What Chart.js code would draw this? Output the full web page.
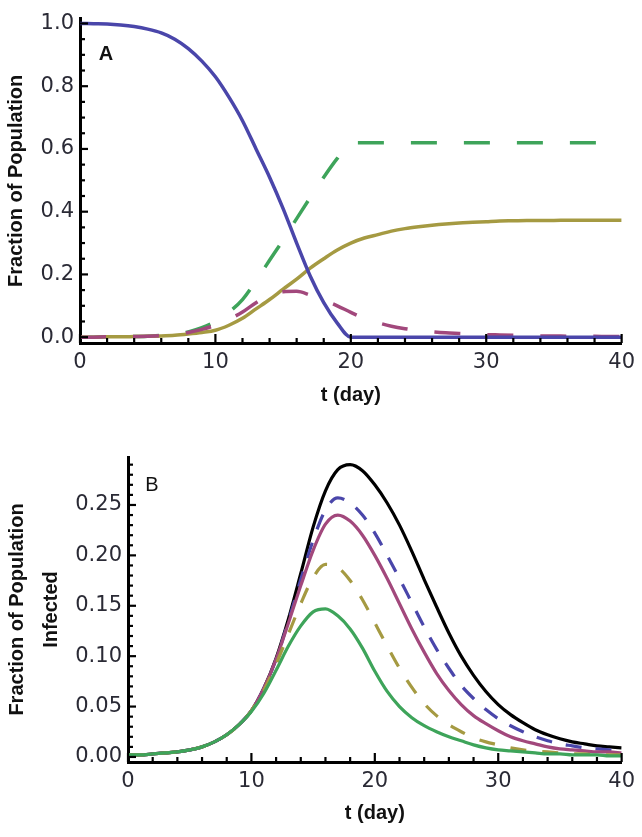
<!DOCTYPE html>
<html>
<head>
<meta charset="utf-8">
<script src="https://cdn.jsdelivr.net/npm/chart.js@4/dist/chart.umd.min.js"></script>
<style>
  html,body{margin:0;padding:0;background:#fff;}
  body{width:642px;height:837px;position:relative;overflow:hidden;}
  .box{position:absolute;left:0;width:642px;}
</style>
</head>
<body>
<div class="box" style="top:0;height:420px;"><canvas id="chartA" width="642" height="420"></canvas></div>
<div class="box" style="top:420px;height:417px;"><canvas id="chartB" width="642" height="417"></canvas></div>
<script>
// ---------- data ----------
const days = [0,1,2,3,4,5,6,7,8,9,10,11,12,13,14,15,16,17,18,19,20,21,22,23,24,25,26,27,28,29,30,31,32,33,34,35,36,37,38,39,40];

// Panel A
const susceptibleA = [1.0,0.999,0.998,0.995,0.99,0.982,0.97,0.95,0.92,0.88,0.83,0.765,0.69,0.6,0.51,0.41,0.30,0.195,0.11,0.045,0,0,0,0,0,0,0,0,0,0,0,0,0,0,0,0,0,0,0,0,0];
const infectedA = [0,0,0.001,0.001,0.002,0.003,0.005,0.009,0.015,0.025,0.038,0.057,0.08,0.11,0.135,0.145,0.146,0.134,0.118,0.1,0.079,0.06,0.046,0.035,0.027,0.021,0.017,0.014,0.012,0.01,0.008,0.007,0.006,0.005,0.004,0.004,0.003,0.003,0.003,0.002,0.002];
const recoveredA = [0,0,0.001,0.001,0.002,0.003,0.004,0.006,0.01,0.015,0.022,0.038,0.06,0.09,0.12,0.153,0.185,0.22,0.25,0.278,0.30,0.316,0.327,0.338,0.346,0.352,0.357,0.361,0.364,0.366,0.368,0.37,0.371,0.372,0.372,0.372,0.373,0.373,0.373,0.373,0.373];
const vaccinatedA = [0,0,0.001,0.001,0.002,0.003,0.006,0.01,0.017,0.03,0.05,0.08,0.12,0.18,0.245,0.31,0.378,0.445,0.51,0.57,0.62,0.62,0.62,0.62,0.62,0.62,0.62,0.62,0.62,0.62,0.62,0.62,0.62,0.62,0.62,0.62,0.62,0.62,0.62,0.62,0.62];

// Panel B
const infB1 = [0.002,0.002,0.003,0.004,0.005,0.007,0.01,0.015,0.022,0.032,0.046,0.068,0.098,0.137,0.182,0.228,0.264,0.285,0.29,0.284,0.27,0.252,0.23,0.204,0.176,0.149,0.123,0.1,0.081,0.065,0.052,0.042,0.034,0.027,0.022,0.018,0.015,0.013,0.011,0.01,0.009];
const infB2 = [0.002,0.002,0.003,0.004,0.005,0.007,0.01,0.015,0.022,0.032,0.046,0.068,0.097,0.135,0.176,0.215,0.245,0.257,0.252,0.24,0.222,0.2,0.177,0.153,0.129,0.107,0.088,0.071,0.058,0.047,0.038,0.031,0.025,0.02,0.016,0.013,0.011,0.009,0.008,0.007,0.006];
const infB3 = [0.002,0.002,0.003,0.004,0.005,0.007,0.01,0.015,0.022,0.032,0.046,0.068,0.097,0.133,0.17,0.205,0.231,0.24,0.234,0.22,0.2,0.177,0.152,0.127,0.104,0.083,0.066,0.052,0.041,0.033,0.026,0.02,0.016,0.013,0.01,0.008,0.007,0.006,0.005,0.005,0.004];
const infB4 = [0.002,0.002,0.003,0.004,0.005,0.007,0.01,0.015,0.022,0.032,0.046,0.066,0.092,0.122,0.152,0.178,0.191,0.188,0.175,0.156,0.133,0.11,0.088,0.069,0.053,0.041,0.032,0.025,0.019,0.015,0.012,0.009,0.007,0.006,0.005,0.004,0.003,0.003,0.002,0.002,0.002];
const infB5 = [0.002,0.002,0.003,0.004,0.005,0.007,0.01,0.015,0.022,0.032,0.045,0.063,0.086,0.11,0.13,0.144,0.147,0.14,0.127,0.108,0.085,0.065,0.05,0.039,0.031,0.025,0.02,0.016,0.012,0.009,0.007,0.006,0.005,0.004,0.003,0.003,0.002,0.002,0.002,0.001,0.001];

const xTicks = [0,10,20,30,40];
const xTickLabels = ['0','10','20','30','40'];
const yTicksA = [0,0.2,0.4,0.6,0.8,1.0];
const yTickLabelsA = ['0.0','0.2','0.4','0.6','0.8','1.0'];
const yTicksB = [0,0.05,0.10,0.15,0.20,0.25];
const yTickLabelsB = ['0.00','0.05','0.10','0.15','0.20','0.25'];

// ---------- styling ----------
const C = {
  blue:'#4a46aa', magenta:'#a2487c', green:'#3ea45a', olive:'#a59a42', black:'#000000'
};
const tickFont = {family:'DejaVu Sans', size:21};
const titleFont = {family:'Liberation Sans', size:20, weight:'bold'};

function pts(ys){ return days.map((t,i)=>({x:t,y:ys[i]})); }

function ds(label, ys, color, dash, width){
  return {label, data:pts(ys), borderColor:color, backgroundColor:color,
    borderWidth:width, borderDash:dash, pointRadius:0, fill:false,
    cubicInterpolationMode:'monotone', borderCapStyle:'butt'};
}

// inward tick marks + panel letter
const decoPlugin = {
  id:'deco',
  afterDraw(chart, args, opts){
    const ctx = chart.ctx, ca = chart.chartArea;
    const xs = chart.scales.x, ys = chart.scales.y;
    ctx.save();
    ctx.strokeStyle = '#000';
    ctx.lineWidth = 2.2;
    for (let t = 0; t <= 40.001; t += 2){
      const px = xs.getPixelForValue(t);
      const len = (Math.abs(t % 10) < 1e-6) ? 9 : 5;
      ctx.beginPath(); ctx.moveTo(px, ca.bottom); ctx.lineTo(px, ca.bottom - len); ctx.stroke();
    }
    const n = Math.round(opts.yMaxTick / opts.yMinor);
    for (let i = 0; i <= n; i++){
      const v = i * opts.yMinor;
      if (v > ys.max) break;
      const py = ys.getPixelForValue(v);
      const major = (i % opts.perMajor) === 0;
      ctx.beginPath(); ctx.moveTo(ca.left, py); ctx.lineTo(ca.left + (major ? 8 : 5), py); ctx.stroke();
    }
    ctx.fillStyle = '#111';
    ctx.font = opts.letterFont;
    ctx.textAlign = 'center'; ctx.textBaseline = 'middle';
    ctx.fillText(opts.letter, ca.left + opts.letterDx, ca.top + opts.letterDy);
    ctx.restore();
  }
};

function makeChart(id, datasets, cfg){
  return new Chart(document.getElementById(id), {
    type:'line',
    data:{datasets},
    plugins:[decoPlugin],
    options:{
      responsive:false, animation:false, maintainAspectRatio:false,
      layout:{padding:{top:cfg.padTop, right:20, left:0, bottom:0}},
      plugins:{legend:{display:false}, tooltip:{enabled:false},
        deco:cfg.deco},
      scales:{
        x:{type:'linear', min:0, max:40,
          grid:{display:false, drawTicks:false, tickLength:0},
          border:{display:true, color:'#000', width:3},
          afterFit(s){ s.height = cfg.xHeight; },
          afterBuildTicks(s){ s.ticks = xTicks.map(v=>({value:v})); },
          ticks:{font:tickFont, color:'#2a2a35', padding:cfg.xPad, maxRotation:0,
            callback:(v,i)=>xTickLabels[i]},
          title:{display:true, text:'t (day)', font:titleFont, color:'#111',
            padding:{top:0,bottom:cfg.xTitlePad}}
        },
        y:{type:'linear', min:cfg.yMin, max:cfg.yMax,
          grid:{display:false, drawTicks:false, tickLength:0},
          border:{display:true, color:'#000', width:3},
          afterFit(s){ s.width = cfg.yWidth; },
          afterBuildTicks(s){ s.ticks = cfg.yTicks.map(v=>({value:v})); },
          ticks:{font:tickFont, color:'#2a2a35', padding:6,
            callback:(v,i)=>cfg.yLabels[i]},
          title:{display:true, text:cfg.yTitle, font:Object.assign({}, titleFont, {lineHeight:cfg.yTitleLH}), color:'#111',
            padding:{top:cfg.yTitlePad, bottom:0}}
        }
      }
    }
  });
}

makeChart('chartA', [
  ds('S', susceptibleA, C.blue, [], 3.5),
  ds('I', infectedA, C.magenta, [26,27], 3.5),
  ds('R', recoveredA, C.olive, [], 3.5),
  ds('V', vaccinatedA, C.green, [26,27], 3.5)
], {
  padTop:10, xHeight:77, yWidth:80, yMin:-0.0186, yMax:1.0155,
  yTicks:yTicksA, yLabels:yTickLabelsA, xPad:7, xTitlePad:13,
  yTitle:'Fraction of Population', yTitleLH:1.2, yTitlePad:4,
  deco:{yMinor:0.05, perMajor:4, yMaxTick:1.0, letter:'A', letterFont:'bold 20px "Liberation Sans"', letterDx:26, letterDy:36}
});

makeChart('chartB', [
  ds('b5', infB5, C.green, [], 3.2),
  ds('b4', infB4, C.olive, [16,16], 3.2),
  ds('b3', infB3, C.magenta, [], 3.2),
  ds('b2', infB2, C.blue, [16,14], 3.2),
  ds('b1', infB1, C.black, [], 3.2)
], {
  padTop:37, xHeight:75, yWidth:128, yMin:-0.005, yMax:0.2976,
  yTicks:yTicksB, yLabels:yTickLabelsB, xPad:7, xTitlePad:12,
  yTitle:['Fraction of Population','Infected'], yTitleLH:'34px', yTitlePad:0,
  deco:{yMinor:0.01, perMajor:5, yMaxTick:0.29, letter:'B', letterFont:'20px "Liberation Sans"', letterDx:24, letterDy:28}
});
</script>
</body>
</html>
